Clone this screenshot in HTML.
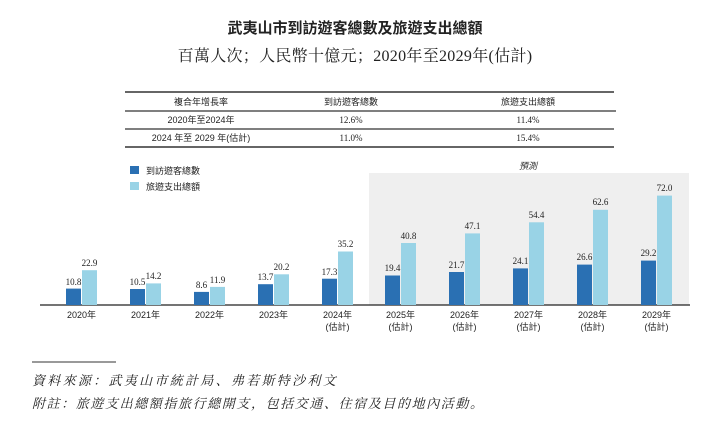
<!DOCTYPE html>
<html><head><meta charset="utf-8"><style>
html,body{margin:0;padding:0;background:#fff;}
svg text{font-family:"Liberation Sans","Noto Sans CJK TC",sans-serif;}
.s{font-family:"Liberation Serif","Noto Serif CJK SC",serif;}
</style></head><body>
<svg width="711" height="419" viewBox="0 0 711 419" xmlns="http://www.w3.org/2000/svg">
<text x="355" y="33" text-anchor="middle" font-size="15" font-weight="bold" fill="#222">武夷山市到訪遊客總數及旅遊支出總額</text>
<text x="355" y="61" text-anchor="middle" font-size="16" fill="#222" class="s" letter-spacing="0.3">百萬人次；人民幣十億元；2020年至2029年(估計)</text>
<line x1="125" y1="92" x2="614" y2="92" stroke="#333" stroke-width="1.5"/>
<line x1="125" y1="111" x2="616" y2="111" stroke="#555" stroke-width="1.5"/>
<line x1="125" y1="129" x2="614" y2="129" stroke="#333" stroke-width="1.2"/>
<line x1="125" y1="147" x2="614" y2="147" stroke="#333" stroke-width="1.5"/>
<g font-size="9" fill="#222" text-anchor="middle">
<text x="201" y="105">複合年增長率</text><text x="351" y="105">到訪遊客總數</text><text x="528" y="105">旅遊支出總額</text>
<text x="201" y="123">2020年至2024年</text><text x="201" y="141">2024 年至 2029 年(估計)</text>
<text x="351" y="123" class="s">12.6%</text><text x="528" y="123" class="s">11.4%</text>
<text x="351" y="141" class="s">11.0%</text><text x="528" y="141" class="s">15.4%</text>
</g>
<rect x="130" y="166" width="9" height="8" fill="#2a70b3"/><text x="146" y="174" font-size="9" fill="#222">到訪遊客總數</text>
<rect x="130" y="182" width="9" height="8" fill="#99d3e6"/><text x="146" y="190" font-size="9" fill="#222">旅遊支出總額</text>
<text x="528" y="169" text-anchor="middle" font-size="9" font-style="italic" fill="#333">預測</text>
<rect x="369" y="173" width="320" height="132" fill="#efefef"/>
<line x1="40" y1="305" x2="690" y2="305" stroke="#222" stroke-width="1.2"/>
<line x1="32" y1="362" x2="116" y2="362" stroke="#333" stroke-width="1"/>
<text x="32" y="385" font-size="13" font-style="italic" fill="#222" class="s" letter-spacing="2.3">資料來源：武夷山市統計局、弗若斯特沙利文</text>
<text x="32" y="408" font-size="13" font-style="italic" fill="#222" class="s" letter-spacing="1.6">附註：旅遊支出總額指旅行總開支，包括交通、住宿及目的地內活動。</text>
<g font-size="9" fill="#222" text-anchor="middle">
<rect x="66" y="288.6" width="15" height="16.4" fill="#2a70b3"/><rect x="82" y="270.2" width="15" height="34.8" fill="#99d3e6"/>
<text x="73.5" y="285" class="s">10.8</text><text x="89.5" y="266" class="s">22.9</text><text x="81.5" y="318">2020年</text>
<rect x="130" y="289" width="15" height="16" fill="#2a70b3"/><rect x="146" y="283.4" width="15" height="21.6" fill="#99d3e6"/>
<text x="137.5" y="285" class="s">10.5</text><text x="153.5" y="279" class="s">14.2</text><text x="145.5" y="318">2021年</text>
<rect x="194" y="291.9" width="15" height="13.1" fill="#2a70b3"/><rect x="210" y="286.9" width="15" height="18.1" fill="#99d3e6"/>
<text x="201.5" y="288" class="s">8.6</text><text x="217.5" y="283" class="s">11.9</text><text x="209.5" y="318">2022年</text>
<rect x="258" y="284.2" width="15" height="20.8" fill="#2a70b3"/><rect x="274" y="274.3" width="15" height="30.7" fill="#99d3e6"/>
<text x="265.5" y="280" class="s">13.7</text><text x="281.5" y="270" class="s">20.2</text><text x="273.5" y="318">2023年</text>
<rect x="322" y="278.7" width="15" height="26.3" fill="#2a70b3"/><rect x="338" y="251.5" width="15" height="53.5" fill="#99d3e6"/>
<text x="329.5" y="275" class="s">17.3</text><text x="345.5" y="247" class="s">35.2</text><text x="337.5" y="318">2024年</text><text x="337.5" y="330">(估計)</text>
<rect x="385" y="275.5" width="15" height="29.5" fill="#2a70b3"/><rect x="401" y="243" width="15" height="62" fill="#99d3e6"/>
<text x="392.5" y="271" class="s">19.4</text><text x="408.5" y="239" class="s">40.8</text><text x="400.5" y="318">2025年</text><text x="400.5" y="330">(估計)</text>
<rect x="449" y="272" width="15" height="33" fill="#2a70b3"/><rect x="465" y="233.4" width="15" height="71.6" fill="#99d3e6"/>
<text x="456.5" y="268" class="s">21.7</text><text x="472.5" y="229" class="s">47.1</text><text x="464.5" y="318">2026年</text><text x="464.5" y="330">(估計)</text>
<rect x="513" y="268.4" width="15" height="36.6" fill="#2a70b3"/><rect x="529" y="222.3" width="15" height="82.7" fill="#99d3e6"/>
<text x="520.5" y="264" class="s">24.1</text><text x="536.5" y="218" class="s">54.4</text><text x="528.5" y="318">2027年</text><text x="528.5" y="330">(估計)</text>
<rect x="577" y="264.6" width="15" height="40.4" fill="#2a70b3"/><rect x="593" y="209.8" width="15" height="95.2" fill="#99d3e6"/>
<text x="584.5" y="260" class="s">26.6</text><text x="600.5" y="205" class="s">62.6</text><text x="592.5" y="318">2028年</text><text x="592.5" y="330">(估計)</text>
<rect x="641" y="260.6" width="15" height="44.4" fill="#2a70b3"/><rect x="657" y="195.6" width="15" height="109.4" fill="#99d3e6"/>
<text x="648.5" y="256" class="s">29.2</text><text x="664.5" y="191" class="s">72.0</text><text x="656.5" y="318">2029年</text><text x="656.5" y="330">(估計)</text>
</g>
</svg>
</body></html>
